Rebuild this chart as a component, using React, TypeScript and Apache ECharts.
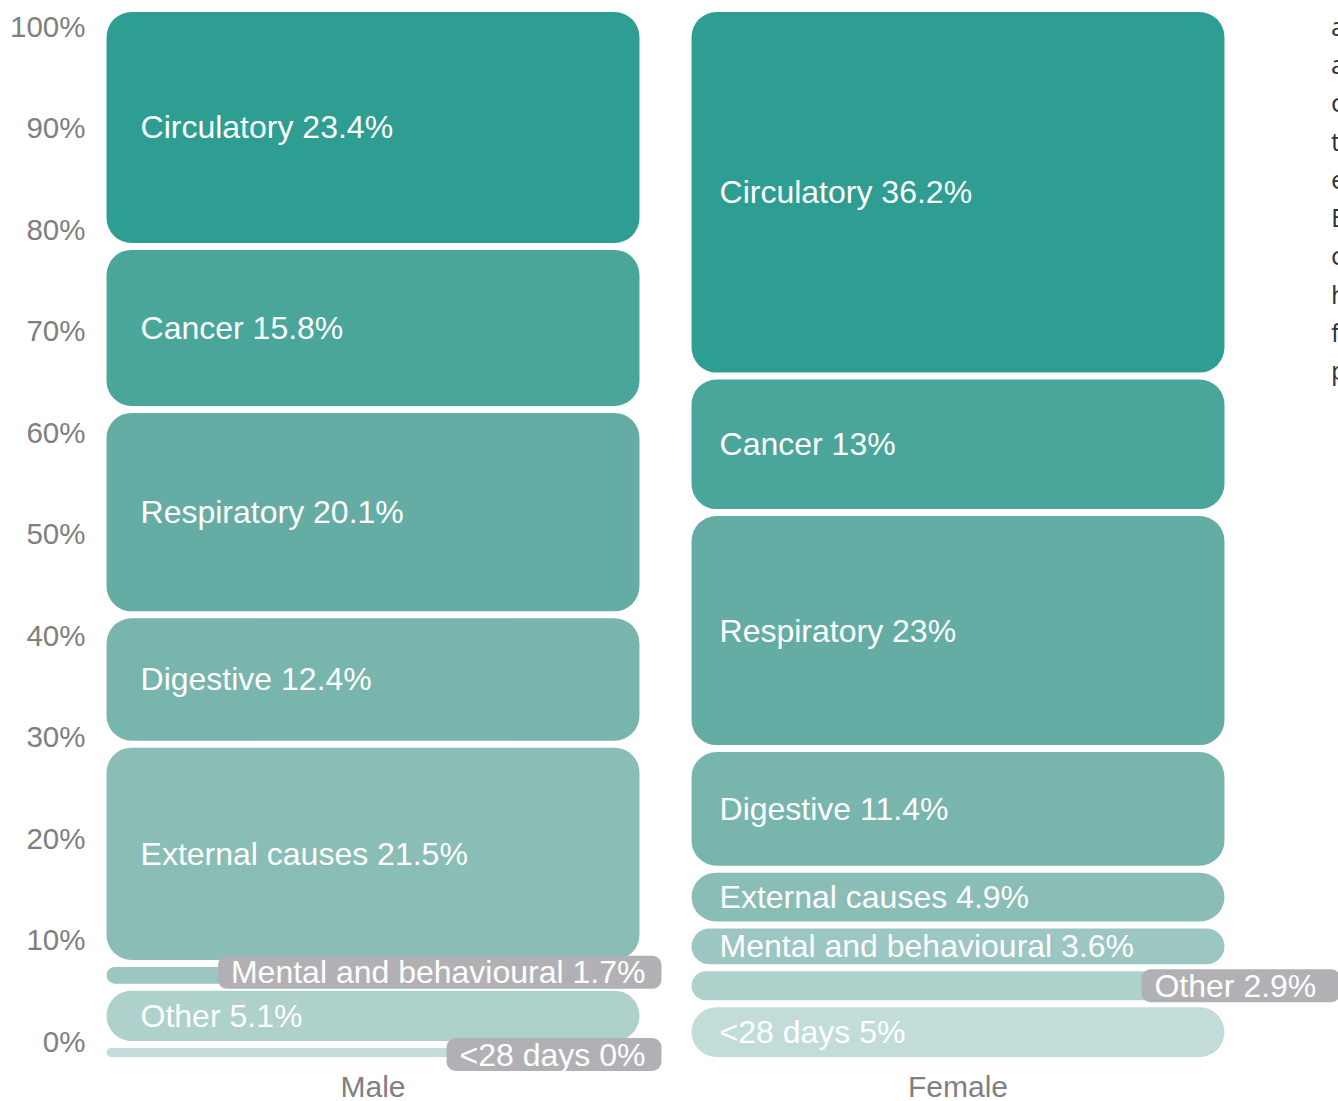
import React, { useEffect, useRef } from "react";
import * as echarts from "echarts";

// ---------- data ----------
const categories = ["Male", "Female"];
const causes = [
  "Circulatory",
  "Cancer",
  "Respiratory",
  "Digestive",
  "External causes",
  "Mental and behavioural",
  "Other",
  "<28 days",
];
const maleValues = [23.4, 15.8, 20.1, 12.4, 21.5, 1.7, 5.1, 0];
const femaleValues = [36.2, 13, 23, 11.4, 4.9, 3.6, 2.9, 5];
const valueLabels = [
  ["23.4%", "15.8%", "20.1%", "12.4%", "21.5%", "1.7%", "5.1%", "0%"],
  ["36.2%", "13%", "23%", "11.4%", "4.9%", "3.6%", "2.9%", "5%"],
];
const yTickValues = [0, 10, 20, 30, 40, 50, 60, 70, 80, 90, 100];
const sideTextLetters = ["a", "a", "c", "t", "e", "E", "c", "h", "f", "p"];

// ---------- styles ----------
const colors = [
  "#2e9d92",
  "#4aa69b",
  "#65ada4",
  "#78b5ac",
  "#8abdb6",
  "#9cc6c1",
  "#aed1cc",
  "#c2ddd9",
];
const GAP = 7;
const MIN_H = 9;
const RADIUS = 25;
const BAR_RATIO = 0.911;
const FONT = "'Liberation Sans', Arial, Helvetica, sans-serif";
const LABEL_FONT_SIZE = 32;
const labelInset = [34, 28];
// labels drawn outside in a grey box: key "cat-seg"
const outsideLabels: Record<string, { anchor: "left" | "right"; dx: number; dy: number; padR: number }> = {
  "0-5": { anchor: "right", dx: 22, dy: -3, padR: 16 },
  "0-7": { anchor: "right", dx: 22, dy: 2, padR: 16 },
  "1-6": { anchor: "left", dx: -83, dy: 0, padR: 24 },
};
const sideTextY = [26, 64, 102, 141, 179, 217, 255, 294, 332, 370];

const seriesValues = [maleValues, femaleValues];

function layoutHeights(vals: number[], total: number): number[] {
  const avail = total - GAP * (vals.length - 1);
  const sum = vals.reduce((a, b) => a + b, 0);
  let small = vals.map((v) => (v / sum) * avail < MIN_H);
  for (let k = 0; k < 3; k++) {
    const nSmall = small.filter(Boolean).length;
    const bigSum = vals.reduce((a, v, i) => (small[i] ? a : a + v), 0);
    const unit = (avail - nSmall * MIN_H) / bigSum;
    small = vals.map((v, i) => small[i] || v * unit < MIN_H);
  }
  const nSmall = small.filter(Boolean).length;
  const bigSum = vals.reduce((a, v, i) => (small[i] ? a : a + v), 0);
  const unit = (avail - nSmall * MIN_H) / bigSum;
  return vals.map((v, i) => (small[i] ? MIN_H : v * unit));
}

const data: number[][] = [];
seriesValues.forEach((vals, c) => vals.forEach((v, s) => data.push([c, s, v])));

export default function App() {
  const ref = useRef<HTMLDivElement>(null);
  useEffect(() => {
    if (!ref.current) return;
    const chart = echarts.init(ref.current, undefined, { renderer: "svg" });
    const option: any = {
      animation: false,
      backgroundColor: "#ffffff",
      grid: { left: 80.5, right: 87.5, top: 12, bottom: 44, containLabel: false },
      xAxis: {
        type: "category",
        data: categories,
        axisLine: { show: false },
        axisTick: { show: false },
        axisLabel: {
          color: "#808080",
          fontSize: 30,
          fontFamily: FONT,
          margin: 14,
        },
      },
      yAxis: {
        type: "value",
        min: -1.576,
        max: 101.38,
        axisLine: { show: false },
        axisTick: { show: false },
        splitLine: { show: false },
        axisLabel: {
          customValues: yTickValues,
          formatter: (v: number) => `${Math.round(v)}%`,
          color: "#7f7f7f",
          fontSize: 29.5,
          fontFamily: FONT,
          margin: -5,
        },
      },
      series: [
        {
          type: "custom",
          data,
          encode: { x: 0, y: 2 },
          renderItem: (params: any, api: any) => {
            const cat = api.value(0) as number;
            const seg = api.value(1) as number;
            const vals = seriesValues[cat];
            const cs = params.coordSys;
            const top = cs.y;
            const bottom = cs.y + cs.height;
            const heights = layoutHeights(vals, bottom - top);
            let y = bottom;
            let segTop = 0;
            let segBottom = 0;
            for (let i = vals.length - 1; i >= 0; i--) {
              const yb = y;
              const yt = y - heights[i];
              if (i === seg) {
                segTop = yt;
                segBottom = yb;
              }
              y = yt - GAP;
            }
            const cx = api.coord([cat, 0])[0];
            const bw = api.size([1, 0])[0] * BAR_RATIO;
            const left = cx - bw / 2;
            const right = cx + bw / 2;
            const h = segBottom - segTop;
            const cy = (segTop + segBottom) / 2;
            const text = `${causes[seg]} ${valueLabels[cat][seg]}`;
            const out = outsideLabels[`${cat}-${seg}`];
            const children: any[] = [
              {
                type: "rect",
                shape: { x: left, y: segTop, width: bw, height: h, r: Math.min(RADIUS, h / 2) },
                style: { fill: colors[seg] },
              },
            ];
            if (out) {
              children.push({
                type: "text",
                z2: 20,
                x: right + out.dx,
                y: cy + out.dy,
                style: {
                  text,
                  fill: "#ffffff",
                  fontSize: LABEL_FONT_SIZE,
                  fontFamily: FONT,
                  align: out.anchor,
                  verticalAlign: "middle",
                  backgroundColor: "#b1b1b5",
                  padding: [1, out.padR, 0, 13],
                  borderRadius: 9,
                  lineHeight: 32,
                },
              });
            } else {
              children.push({
                type: "text",
                z2: 10,
                x: left + labelInset[cat],
                y: cy,
                style: {
                  text,
                  fill: "#ffffff",
                  fontSize: LABEL_FONT_SIZE,
                  fontFamily: FONT,
                  align: "left",
                  verticalAlign: "middle",
                },
              });
            }
            return { type: "group", children };
          },
        },
      ],
      graphic: sideTextLetters.map((t, i) => ({
        type: "text",
        x: 1331,
        y: sideTextY[i],
        style: {
          text: t,
          fill: "#333333",
          fontSize: 26,
          fontFamily: "'Open Sans', sans-serif",
          verticalAlign: "middle",
        },
      })),
    };
    chart.setOption(option);
    return () => chart.dispose();
  }, []);
  return (
    <div
      ref={ref}
      style={{ position: "fixed", left: 0, top: 0, width: 1338, height: 1101 }}
    />
  );
}
